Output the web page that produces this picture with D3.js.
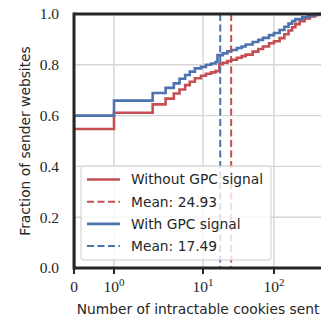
<!DOCTYPE html>
<html>
<head>
<meta charset="utf-8">
<script src="https://cdn.jsdelivr.net/npm/d3@7"></script>
<style>
  body { margin: 0; background: #fff; }
  svg { display: block; }
</style>
</head>
<body>
<div id="chart"></div>
<script>
// values: [cookies sent, cumulative fraction]
const withoutGpc = [
  [0, 0.547], [1, 0.611], [2.72, 0.644], [3.8, 0.667], [4.7, 0.687], [5.45, 0.703],
  [6.3, 0.720], [7.1, 0.733], [8.1, 0.747], [9.5, 0.757], [11, 0.765], [13, 0.770],
  [15, 0.775], [17, 0.802], [19, 0.808], [22, 0.815], [25, 0.820], [30, 0.828],
  [35, 0.834], [40, 0.840], [50, 0.852], [60, 0.862], [70, 0.872], [85, 0.885],
  [100, 0.893], [120, 0.905], [140, 0.920], [160, 0.935], [180, 0.948], [200, 0.960],
  [230, 0.972], [270, 0.982], [320, 0.990], [380, 0.996], [450, 1.0]
];
const withGpc = [
  [0, 0.600], [1, 0.659], [2.72, 0.689], [3.8, 0.709], [4.7, 0.727], [5.45, 0.745],
  [6.3, 0.760], [7.1, 0.773], [8.1, 0.786], [9.5, 0.792], [11, 0.800], [13, 0.805],
  [15, 0.811], [16, 0.838], [19, 0.845], [22, 0.853], [25, 0.858], [30, 0.866],
  [35, 0.872], [40, 0.880], [50, 0.890], [60, 0.898], [70, 0.906], [85, 0.917],
  [100, 0.925], [120, 0.937], [140, 0.950], [160, 0.962], [180, 0.972], [200, 0.980],
  [250, 0.987], [300, 0.992], [350, 0.996], [400, 1.0]
];
const means = [24.93, 17.49];
const seriesNames = ['Without GPC signal', 'With GPC signal'];
const xTicks = [0, 1, 10, 100];
const yTicks = [0, 0.2, 0.4, 0.6, 0.8, 1.0];
const xMax = 474;

const W = 321, H = 320;
const mLeft = 74, mRight = 322, mTop = 14, mBottom = 268;
const colors = ['#c44e52', '#4c72b0'];
const ink = '#262626';

const svg = d3.select('#chart').append('svg')
  .attr('width', W).attr('height', H);

const toU = v => v < 1 ? v : 1 + Math.log10(v);
const uScale = d3.scaleLinear().domain([0, 1, 2, 3]).range([mLeft, 114, 203, 274]);
const x = v => uScale(toU(v));
const y = d3.scaleLinear().domain([0, 1]).range([mBottom, mTop]);

// grid
svg.append('g').selectAll('line')
  .data(xTicks.slice(1)).enter().append('line')
  .attr('x1', d => x(d)).attr('x2', d => x(d))
  .attr('y1', mTop).attr('y2', mBottom)
  .attr('stroke', '#d6d6d6').attr('stroke-width', 1.4);
svg.append('g').selectAll('line')
  .data(yTicks.slice(1, -1)).enter().append('line')
  .attr('x1', mLeft).attr('x2', mRight)
  .attr('y1', d => y(d)).attr('y2', d => y(d))
  .attr('stroke', '#d6d6d6').attr('stroke-width', 1.4);

svg.append('clipPath').attr('id', 'plot')
  .append('rect').attr('x', mLeft).attr('y', mTop - 2)
  .attr('width', mRight - mLeft).attr('height', mBottom - mTop + 2);

const line = d3.line()
  .x(d => x(d[0])).y(d => y(d[1]))
  .curve(d3.curveStepAfter);

const plot = svg.append('g').attr('clip-path', 'url(#plot)');

[withoutGpc, withGpc].forEach((s, i) => {
  const pts = [[0, 0]].concat(s, [[xMax, 1.0]]);
  plot.append('path')
    .attr('d', line(pts))
    .attr('fill', 'none')
    .attr('stroke', colors[i])
    .attr('stroke-width', 2.6);
});

means.forEach((m, i) => {
  plot.append('line')
    .attr('x1', x(m)).attr('x2', x(m))
    .attr('y1', mTop).attr('y2', mBottom)
    .attr('stroke', colors[i])
    .attr('stroke-width', 2)
    .attr('stroke-dasharray', '7,3.5');
});

// spines
svg.append('line').attr('x1', mLeft).attr('x2', mRight).attr('y1', mTop).attr('y2', mTop)
  .attr('stroke', ink).attr('stroke-width', 3);
svg.append('line').attr('x1', mLeft).attr('x2', mRight).attr('y1', mBottom).attr('y2', mBottom)
  .attr('stroke', ink).attr('stroke-width', 3);
svg.append('line').attr('x1', mLeft).attr('x2', mLeft).attr('y1', mTop - 1.5).attr('y2', mBottom + 1.5)
  .attr('stroke', ink).attr('stroke-width', 3);

// x ticks
const xt = svg.append('g').selectAll('g')
  .data(xTicks).enter().append('g')
  .attr('transform', d => `translate(${x(d)},0)`);
xt.append('line').attr('y1', mBottom).attr('y2', mBottom + 6)
  .attr('stroke', ink).attr('stroke-width', 2);
const xl = xt.append('text')
  .attr('y', 292)
  .attr('text-anchor', 'middle')
  .attr('font-family', 'Liberation Serif, serif')
  .attr('font-size', 15.5)
  .attr('fill', ink);
xl.each(function(d) {
  const t = d3.select(this);
  if (d === 0) { t.text('0'); return; }
  t.append('tspan').text('10');
  t.append('tspan').attr('dy', -6).attr('font-size', 11).text(Math.round(Math.log10(d)));
});

// y tick labels
svg.append('g').selectAll('text')
  .data(yTicks).enter().append('text')
  .attr('x', 59).attr('y', d => y(d))
  .attr('dy', '0.35em')
  .attr('text-anchor', 'end')
  .attr('font-family', 'Liberation Serif, serif')
  .attr('font-size', 15.5)
  .attr('fill', ink)
  .text(d3.format('.1f'));

// axis labels
svg.append('text')
  .attr('x', (mLeft + mRight) / 2).attr('y', 314)
  .attr('text-anchor', 'middle')
  .attr('font-family', 'DejaVu Sans, sans-serif')
  .attr('font-size', 13.8)
  .attr('fill', ink)
  .text('Number of intractable cookies sent');
svg.append('text')
  .attr('transform', `translate(30,${(mTop + mBottom) / 2}) rotate(-90)`)
  .attr('text-anchor', 'middle')
  .attr('font-family', 'DejaVu Sans, sans-serif')
  .attr('font-size', 13.8)
  .attr('fill', ink)
  .text('Fraction of sender websites');

// legend
const lg = svg.append('g');
lg.append('rect')
  .attr('x', 81).attr('y', 166).attr('width', 190).attr('height', 94)
  .attr('rx', 3)
  .attr('fill', '#fff').attr('fill-opacity', 0.8)
  .attr('stroke', '#cccccc').attr('stroke-width', 1);
const items = [
  { label: seriesNames[0], color: colors[0], dash: null },
  { label: 'Mean: ' + means[0].toFixed(2), color: colors[0], dash: '7,3.5' },
  { label: seriesNames[1], color: colors[1], dash: null },
  { label: 'Mean: ' + means[1].toFixed(2), color: colors[1], dash: '7,3.5' }
];
const row = lg.selectAll('g').data(items).enter().append('g')
  .attr('transform', (d, i) => `translate(0,${179.5 + i * 22.2})`);
row.append('line')
  .attr('x1', 87).attr('x2', 120)
  .attr('stroke', d => d.color)
  .attr('stroke-width', d => d.dash ? 2 : 2.6)
  .attr('stroke-dasharray', d => d.dash);
row.append('text')
  .attr('x', 131).attr('dy', '0.36em')
  .attr('font-family', 'DejaVu Sans, sans-serif')
  .attr('font-size', 13.8)
  .attr('fill', ink)
  .text(d => d.label);
</script>
</body>
</html>
